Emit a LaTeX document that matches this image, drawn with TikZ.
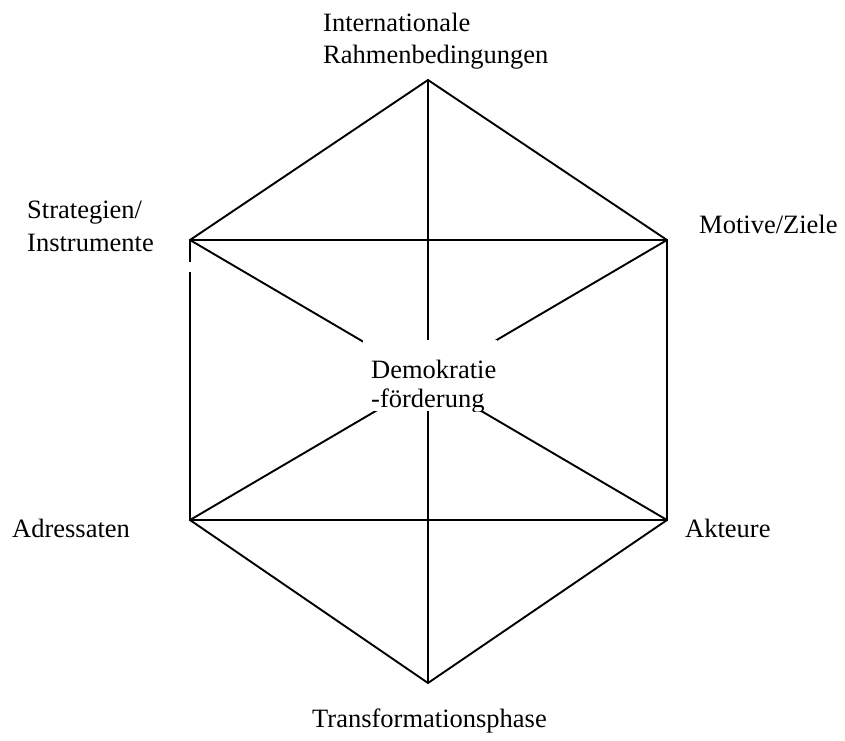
\documentclass[tikz,border=0pt]{standalone}
\usepackage{fontspec}
\setmainfont{Liberation Serif}
\begin{document}
\begin{tikzpicture}[x=1pt,y=-1pt,
  edge/.style={line width=1.9pt,line join=miter,line cap=round},
  lbl/.style={anchor=base west,inner sep=0pt,font=\fontsize{26.5}{32}\selectfont}]
\useasboundingbox (0,0) rectangle (845,740);
\fill[white] (0,0) rectangle (845,740);
% vertices
\coordinate (T) at (428,80);
\coordinate (UL) at (190,240);
\coordinate (UR) at (667,240);
\coordinate (LL) at (190,520);
\coordinate (LR) at (667,520);
\coordinate (B) at (428,683);
% hexagon
\draw[edge] (T) -- (UR) -- (LR) -- (B) -- (LL) -- (UL) -- cycle;
% inner lines
\draw[edge] (UL) -- (UR);
\draw[edge] (LL) -- (LR);
\draw[edge] (T) -- (B);
\draw[edge] (UL) -- (LR);
\draw[edge] (UR) -- (LL);
% small gap in left edge
\fill[white] (186,262) rectangle (194,272);
% centre label
\fill[white] (363,340) rectangle (497,411);
\begin{scope}
\clip (363,340) rectangle (497,411);
\node[lbl] (c1) at (371,378) {Demokratie};
\node[lbl] (c2) at (371,407) {-förderung};
\end{scope}
% outer labels
\node[lbl] (t1) at (323,31) {Internationale};
\node[lbl] (t2) at (323,63) {Rahmenbedingungen};
\node[lbl] (s1) at (27,218) {Strategien/};
\node[lbl] (s2) at (27,251) {Instrumente};
\node[lbl] (m) at (699,233) {Motive/Ziele};
\node[lbl] (a) at (12,537) {Adressaten};
\node[lbl] (k) at (685,537) {Akteure};
\node[lbl] (tp) at (312,727) {Transformationsphase};
\end{tikzpicture}
\end{document}
